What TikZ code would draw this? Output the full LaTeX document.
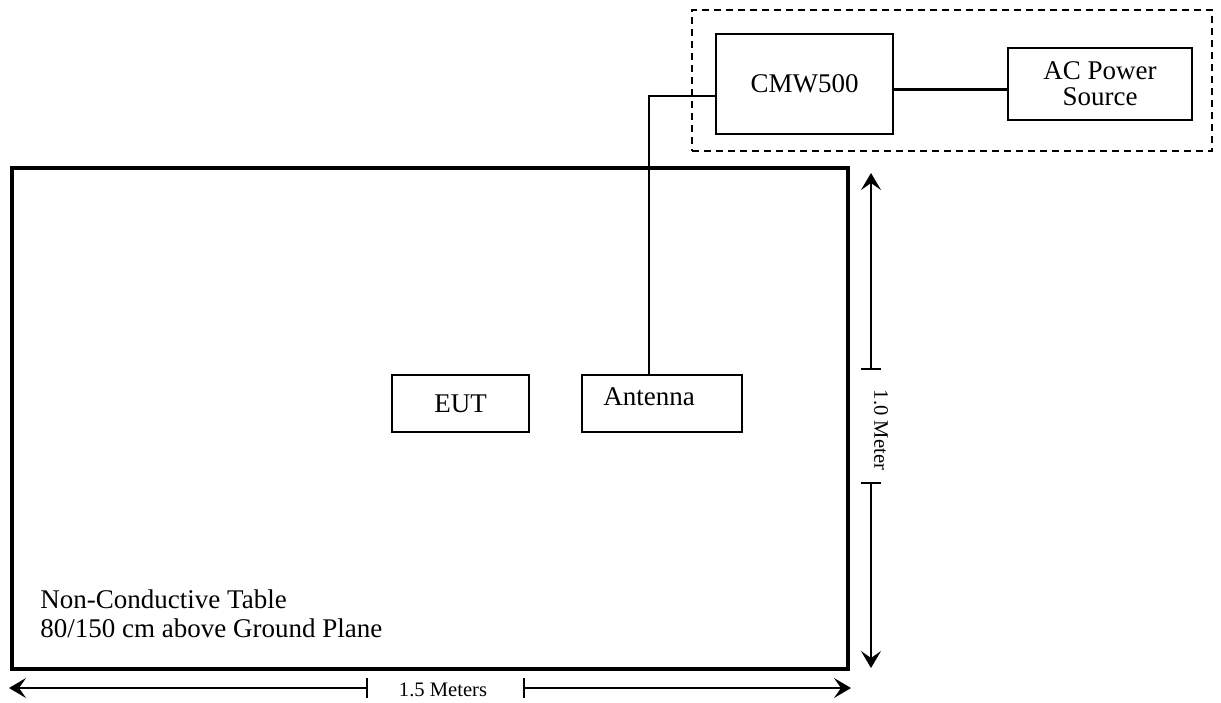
\documentclass[tikz,border=0pt]{standalone}
\usepackage{fontspec}
\setmainfont{Liberation Serif}
\usetikzlibrary{arrows.meta}
\begin{document}
\begin{tikzpicture}[x=0.5pt,y=-0.5pt,
  box/.style={draw, line width=0.9pt, rectangle, inner sep=0pt, align=center,
    font=\fontsize{13.5}{13}\selectfont},
  lbl/.style={inner sep=0pt, font=\fontsize{13.5}{13}\selectfont},
  small/.style={inner sep=0pt, font=\fontsize{10.3}{12}\selectfont},
  wire/.style={line width=0.7pt},
  dim/.style={line width=0.8pt},
  dimarrow/.style={dim, -{Stealth[length=8.5pt,width=10pt,inset=3.5pt]}}]
\useasboundingbox (0,0) rectangle (1221,702);
% group and boxes
\node[draw, dashed, dash pattern=on 3.5pt off 2.5pt, line width=0.75pt, inner sep=0pt,
  minimum width=260pt, minimum height=70.5pt] (grp) at (952,80.5) {};
\node[box, minimum width=88.5pt, minimum height=50pt] (cmw) at (804.5,84) {CMW500};
\node[box, minimum width=92pt, minimum height=36pt] (ac) at (1100,84) {AC Power\\Source};
\node[draw, line width=1.6pt, inner sep=0pt, minimum width=418pt, minimum height=250.5pt] (table) at (430,418.5) {};
\node[box, minimum width=68.5pt, minimum height=28.5pt] (eut) at (460.5,403.5) {EUT};
\node[box, minimum width=80pt, minimum height=28.5pt] (ant) at (662,403.5) {};
\node[lbl, anchor=base west] (antt) at (603,405) {Antenna};
\node[lbl, anchor=base west] (tab1) at (40,608) {Non-Conductive Table};
\node[lbl, anchor=base west] (tab2) at (40,637) {80/150 cm above Ground Plane};
% connectors
\draw[line width=1.5pt] (cmw.east |- 0,89) -- (ac.west |- 0,89);
\draw[wire] (cmw.west |- 0,96) -| (ant.north -| 649,0);
% horizontal dimension
\coordinate (hl) at (9,688);
\coordinate (hr) at (851,688);
\coordinate (ht1) at (367,688);
\coordinate (ht2) at (524,688);
\node[small] (hlab) at (443,690) {1.5 Meters};
\draw[dimarrow] (ht1) -- (hl);
\draw[dimarrow] (ht2) -- (hr);
\draw[dim] ([yshift=-5pt]ht1) -- ([yshift=5pt]ht1);
\draw[dim] ([yshift=-5pt]ht2) -- ([yshift=5pt]ht2);
% vertical dimension
\coordinate (vt) at (871,173);
\coordinate (vb) at (871,668);
\coordinate (vt1) at (871,369);
\coordinate (vt2) at (871,483);
\node[small, rotate=-90] (vlab) at (881,430) {1.0 Meter};
\draw[dimarrow] (vt1) -- (vt);
\draw[dimarrow] (vt2) -- (vb);
\draw[dim] ([xshift=-5pt]vt1) -- ([xshift=5pt]vt1);
\draw[dim] ([xshift=-5pt]vt2) -- ([xshift=5pt]vt2);
\end{tikzpicture}
\end{document}
